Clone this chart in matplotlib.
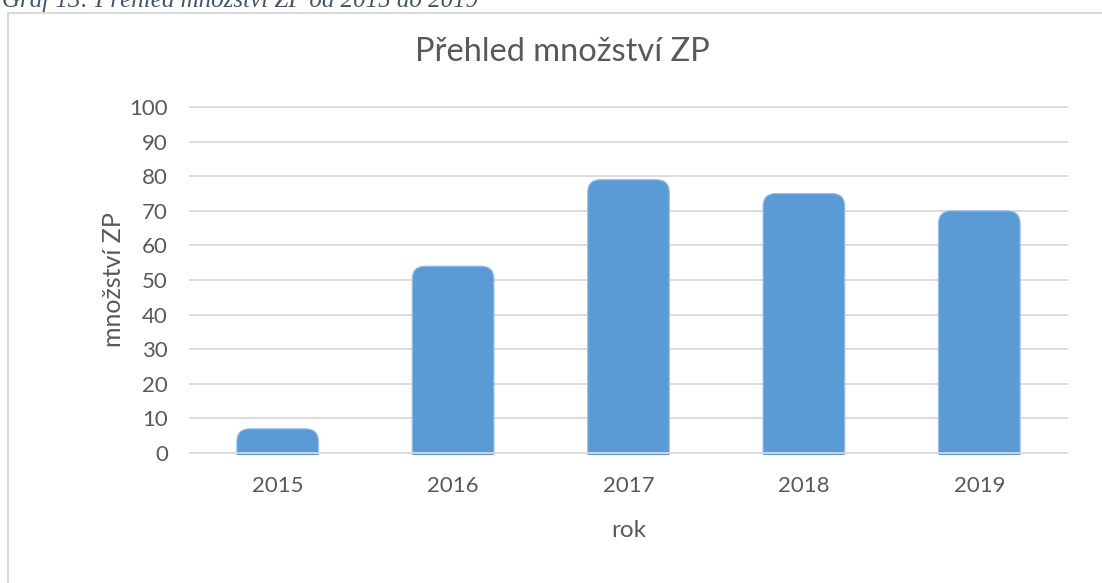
import numpy as np
import matplotlib
matplotlib.use("Agg")
import matplotlib.pyplot as plt
from matplotlib.patches import FancyBboxPatch, Rectangle

# data
years = ["2015", "2016", "2017", "2018", "2019"]
counts = [7, 54, 79, 75, 70]
y_ticks = [0, 10, 20, 30, 40, 50, 60, 70, 80, 90, 100]

BAR_COLOR = "#5B9BD5"
GRID_COLOR = "#D9D9D9"
TEXT_COLOR = "#595959"

W, H = 1102, 583
fig = plt.figure(figsize=(W / 100, H / 100), dpi=100)
plt.rcParams["font.family"] = ["Lato", "DejaVu Sans"]

# axes placement in pixels (left, right, top, bottom)
ylo, yhi = -0.6, 101
px_left, px_right = 190, 1067
px_per_unit = 346 / 100
px_bottom = 453 - ylo * px_per_unit
px_top = 107 - (yhi - 100) * px_per_unit
ax = fig.add_axes([px_left / W, 1 - px_bottom / H,
                   (px_right - px_left) / W, (px_bottom - px_top) / H])

x = np.arange(len(years))
ax.set_xlim(-0.5, len(years) - 0.5)
ax.set_ylim(ylo, yhi)

# gridlines
for t in y_ticks:
    ax.axhline(t, color=GRID_COLOR, lw=1.3, zorder=1 if t else 4, clip_on=False)

# rounded-top bars
bar_w = 0.466
px_per_x = (px_right - px_left) / len(years)
r_px = 13
rx = r_px / px_per_x
ry = r_px / px_per_unit
for xi, v in zip(x, counts):
    patch = FancyBboxPatch((xi - bar_w / 2, -5), bar_w, v + 5,
                           boxstyle=f"round,pad=0,rounding_size={rx}",
                           mutation_aspect=ry / rx,
                           facecolor=BAR_COLOR, edgecolor="#9cc2e8", lw=0.8,
                           zorder=3)
    ax.add_patch(patch)

ax.set_xticks(x)
ax.set_xticklabels(years)
ax.set_yticks(y_ticks)
ax.tick_params(axis="both", length=0, labelsize=16, colors=TEXT_COLOR)
ax.tick_params(axis="x", pad=15)
ax.tick_params(axis="y", pad=16)
for s in ax.spines.values():
    s.set_visible(False)

ax.set_xlabel("rok", fontsize=17.5, color=TEXT_COLOR, labelpad=17)
ax.set_ylabel("množství ZP", fontsize=18, color=TEXT_COLOR, labelpad=3)

# chart title
fig.text(562 / W, 1 - 52 / H, "Přehled množství ZP", fontsize=23.5,
         color=TEXT_COLOR, ha="center", va="center")

# chart frame (runs off the right and bottom of the image)
fig.patches.append(Rectangle((8 / W, -0.2), 1.2, 1 - 13 / H + 0.2,
                             transform=fig.transFigure, fill=False,
                             edgecolor=GRID_COLOR, lw=1.5))

# document caption, cut at the top
fig.text(2 / W, 1 - 7 / H, "Graf 13: Přehled množství ZP od 2015 do 2019",
         fontsize=18, family="Liberation Serif", style="italic",
         color="#44546A", ha="left", va="baseline")

fig.savefig("out.png", dpi=100)
